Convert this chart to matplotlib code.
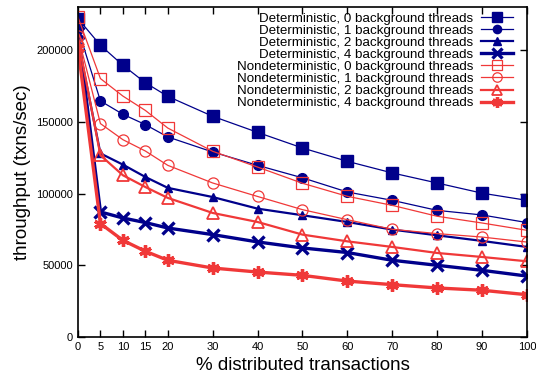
import numpy as np
import matplotlib
matplotlib.use("Agg")
import matplotlib.pyplot as plt

plt.rcParams['font.family'] = ['Liberation Sans', 'DejaVu Sans']

# % distributed transactions
pct = [0, 5, 10, 15, 20, 30, 40, 50, 60, 70, 80, 90, 100]

det0 = [222000, 203400, 189500, 177300, 167800, 153900, 142700, 131800, 122500, 114400, 107400, 100300, 95300]
det1 = [215000, 164600, 155300, 148100, 139500, 129000, 119700, 111000, 101100, 95300, 88300, 85100, 79800]
det2 = [206000, 128000, 120200, 111600, 104000, 97600, 89500, 84900, 80200, 74900, 70900, 67000, 62800]
det4 = [212000, 87200, 83000, 79800, 76000, 71400, 66300, 62100, 58900, 53500, 50000, 46500, 42500]
nd0 = [223000, 180200, 168000, 158000, 145700, 129500, 118500, 107200, 98100, 91800, 84200, 79500, 74400]
nd1 = [210000, 148800, 137600, 129700, 119700, 107400, 98000, 88800, 81800, 75100, 72100, 69700, 66200]
nd2 = [208000, 126700, 112800, 104600, 97000, 86500, 80200, 71400, 66700, 62800, 58600, 55800, 52800]
nd4 = [201500, 79100, 67400, 59800, 53500, 48100, 45300, 43000, 39000, 36500, 34200, 32600, 29500]

labels = ["Deterministic, 0 background threads",
          "Deterministic, 1 background threads",
          "Deterministic, 2 background threads",
          "Deterministic, 4 background threads",
          "Nondeterministic, 0 background threads",
          "Nondeterministic, 1 background threads",
          "Nondeterministic, 2 background threads",
          "Nondeterministic, 4 background threads"]

blue = '#00008b'
red = '#f03838'

fig = plt.figure(figsize=(5.36, 3.76), dpi=100)
ax = fig.add_axes([0.1455, 0.1037, 0.8375, 0.8773])

ax.plot(pct, det0, color=blue, lw=0.9, marker='s', ms=8, label=labels[0])
ax.plot(pct, det1, color=blue, lw=0.9, marker='o', ms=7, label=labels[1])
ax.plot(pct, det2, color=blue, lw=1.6, marker='^', ms=6, label=labels[2])
ax.plot(pct, det4, color=blue, lw=2.4, marker='x', ms=8, mew=2.4, label=labels[3])
ax.plot(pct, nd0, color=red, lw=0.9, marker='s', ms=8, mfc='none', mew=0.9, label=labels[4])
ax.plot(pct, nd1, color=red, lw=0.9, marker='o', ms=8, mfc='none', mew=0.9, label=labels[5])
ax.plot(pct, nd2, color=red, lw=1.6, marker='^', ms=8, mfc='none', mew=1.3, label=labels[6])
ax.plot(pct, nd4, color=red, lw=2.4, marker=(6, 2, 0), ms=9, mew=2.4, label=labels[7])

ax.set_xlim(0, 100)
ax.set_ylim(0, 230000)
ax.set_xticks(pct)
ax.set_yticks([0, 50000, 100000, 150000, 200000])
ax.tick_params(direction='in', top=True, right=True, labelsize=8, length=5, width=1)
for s in ax.spines.values():
    s.set_linewidth(1.2)

ax.set_xlabel("% distributed transactions", fontsize=13.5, labelpad=4)
ax.set_ylabel("throughput (txns/sec)", fontsize=13.5, labelpad=4)

leg = ax.legend(loc='upper right', bbox_to_anchor=(0.982, 1.0), frameon=False,
                markerfirst=False, fontsize=9.6, handlelength=2.4, labelspacing=-0.02,
                borderaxespad=0.1, handletextpad=0.6, borderpad=0.3, markerscale=0.85)

fig.savefig("out.png", dpi=100)
